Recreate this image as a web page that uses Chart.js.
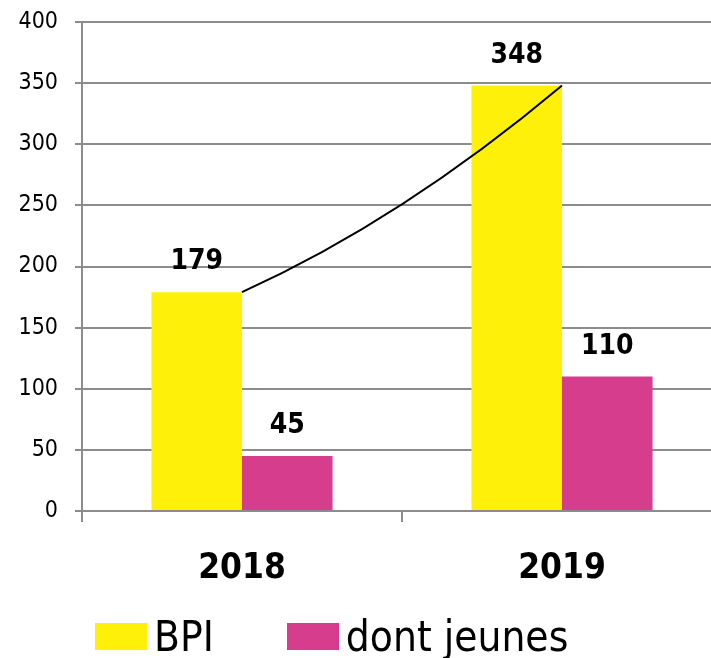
<!DOCTYPE html>
<html>
<head>
<meta charset="utf-8">
<script src="https://cdn.jsdelivr.net/npm/chart.js@4.4.0/dist/chart.umd.min.js"></script>
<style>
  html, body { margin: 0; padding: 0; background: #fff; }
  #wrap { position: relative; width: 711px; height: 658px; overflow: hidden; }
  #box { position: absolute; left: 0; top: 0; width: 740px; height: 658px; }
  #legend { position: absolute; left: 95px; top: 612px; display: flex; align-items: center;
            font-family: "DejaVu Sans Condensed", sans-serif; font-size: 42px; color: #000; }
  .item { display: flex; align-items: center; }
  .sw { width: 52px; height: 27px; margin-right: 7px; }
</style>
</head>
<body>
<div id="wrap">
  <div id="box"><canvas id="c"></canvas></div>
  <div id="legend"></div>
</div>
<script>
const categories = ['2018', '2019'];
const seriesNames = ['BPI', 'dont jeunes'];
const bpiValues = [179, 348];
const jeunesValues = [45, 110];
const yTicks = [0, 50, 100, 150, 200, 250, 300, 350, 400];

const FONT = '"DejaVu Sans Condensed", sans-serif';
const YELLOW = '#FFF00A';
const PINK = '#D63D8D';
const GRID = '#8c8c8c';

const valueLabels = {
  id: 'valueLabels',
  afterDatasetsDraw(chart) {
    const ctx = chart.ctx;
    ctx.save();
    ctx.font = 'bold 28px ' + FONT;
    ctx.fillStyle = '#000';
    ctx.textAlign = 'center';
    ctx.textBaseline = 'middle';
    chart.data.datasets.forEach((ds, i) => {
      const meta = chart.getDatasetMeta(i);
      meta.data.forEach((bar, j) => {
        ctx.fillText(String(ds.data[j]), bar.x, bar.y - 30);
      });
    });
    ctx.restore();
  }
};

const growthCurve = {
  id: 'growthCurve',
  afterDatasetsDraw(chart) {
    const xs = chart.scales.x, ys = chart.scales.y;
    const x0 = xs.getPixelForValue(0), y0 = ys.getPixelForValue(bpiValues[0]);
    const x1 = xs.getPixelForValue(1), y1 = ys.getPixelForValue(bpiValues[1]);
    const cx = (x0 + x1) / 2;
    const cy = (y0 + y1) / 2 + 0.15 * (y0 - y1);
    const ctx = chart.ctx;
    ctx.save();
    ctx.strokeStyle = '#000';
    ctx.lineWidth = 2;
    ctx.beginPath();
    ctx.moveTo(x0, y0);
    ctx.quadraticCurveTo(cx, cy, x1, y1);
    ctx.stroke();
    ctx.restore();
  }
};

const chart = new Chart(document.getElementById('c'), {
  type: 'bar',
  data: {
    labels: categories,
    datasets: [
      { label: seriesNames[0], data: bpiValues, backgroundColor: YELLOW, borderWidth: 0 },
      { label: seriesNames[1], data: jeunesValues, backgroundColor: PINK, borderWidth: 0 }
    ]
  },
  options: {
    responsive: true,
    maintainAspectRatio: false,
    animation: false,
    layout: { padding: { top: 22, right: 18, bottom: 57, left: 0 } },
    categoryPercentage: 0.566,
    barPercentage: 1,
    plugins: { legend: { display: false }, tooltip: { enabled: false } },
    scales: {
      x: {
        offset: true,
        grid: { display: true, drawOnChartArea: false, offset: true, color: GRID, lineWidth: 2, tickLength: 11 },
        border: { display: true, color: GRID, width: 2 },
        ticks: { font: { family: FONT, size: 35, weight: 'bold' }, color: '#000', padding: 26 },
        afterFit(s) { s.height = 90; s.paddingLeft = 0; s.paddingRight = 0; }
      },
      y: {
        min: 0, max: 400,
        afterBuildTicks(s) { s.ticks = yTicks.map(v => ({ value: v })); },
        grid: { color: GRID, lineWidth: 2, tickLength: 7 },
        border: { display: true, color: GRID, width: 2 },
        ticks: { font: { family: FONT, size: 23 }, color: '#000', padding: 17 },
        afterFit(s) { s.width = 82; s.paddingTop = 0; s.paddingBottom = 0; }
      }
    }
  },
  plugins: [growthCurve, valueLabels]
});

const leg = document.getElementById('legend');
chart.data.datasets.forEach((ds, i) => {
  const it = document.createElement('div');
  it.className = 'item';
  if (i > 0) it.style.marginLeft = '73px';
  const sw = document.createElement('div');
  sw.className = 'sw';
  sw.style.background = ds.backgroundColor;
  const tx = document.createElement('span');
  tx.textContent = ds.label;
  it.appendChild(sw); it.appendChild(tx);
  leg.appendChild(it);
});
</script>
</body>
</html>
